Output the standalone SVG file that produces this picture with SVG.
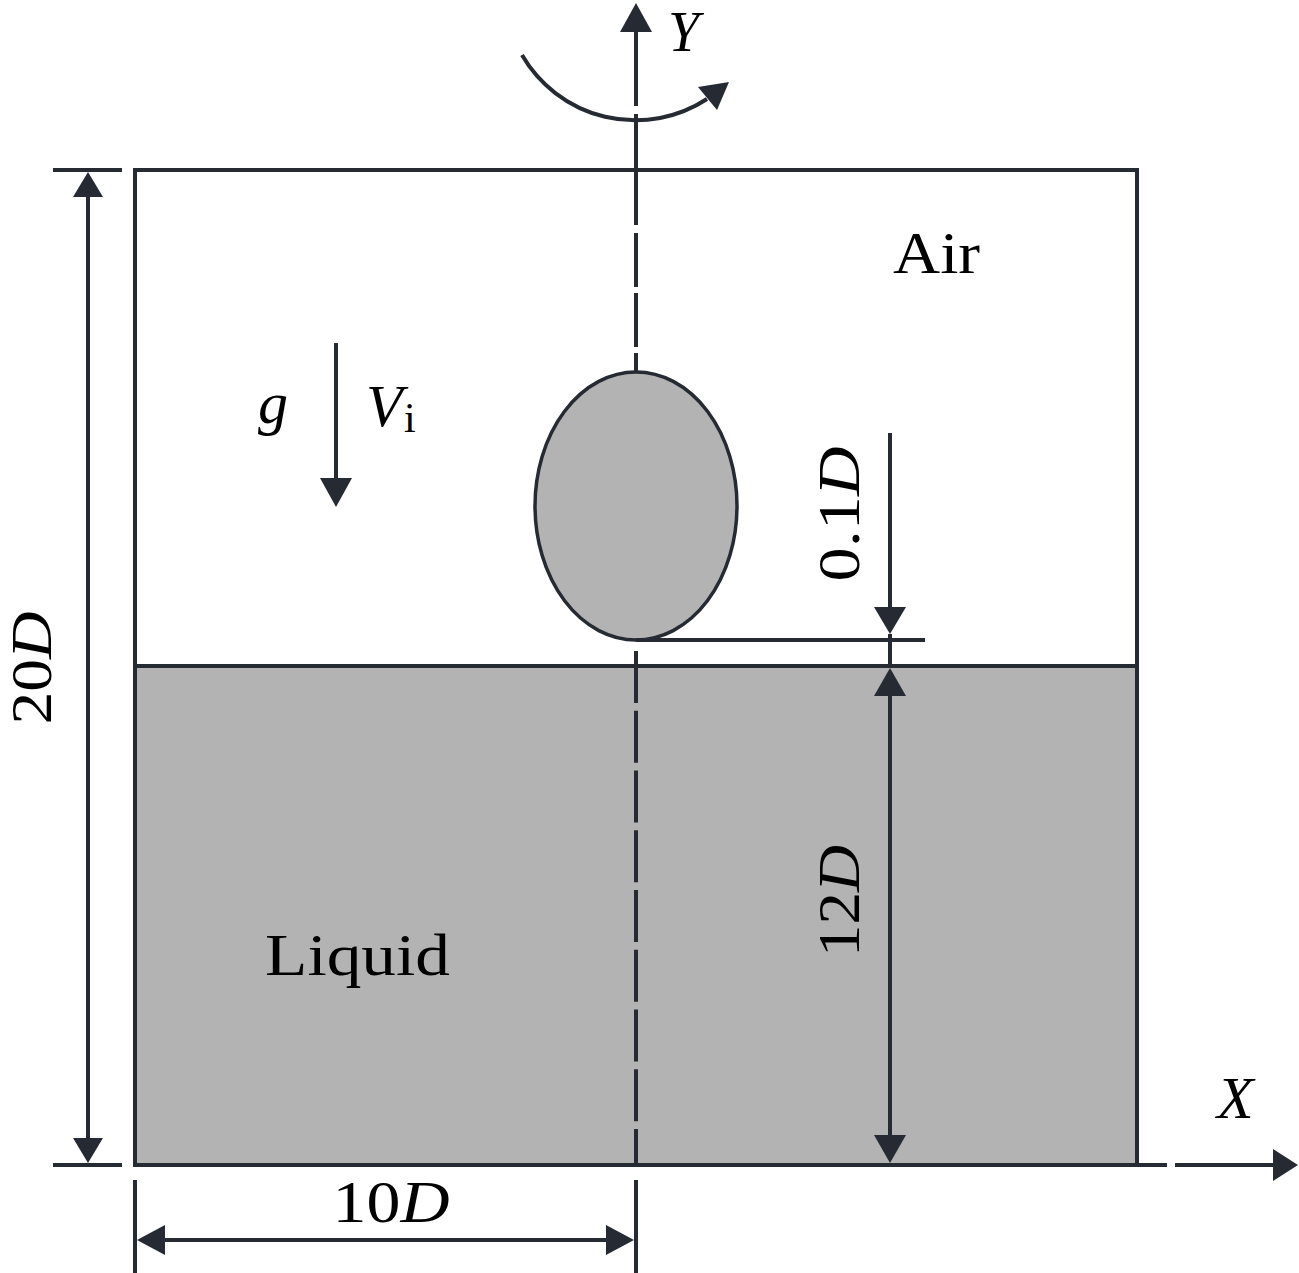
<svg xmlns="http://www.w3.org/2000/svg" width="1299" height="1273" viewBox="0 0 1299 1273">
<style>
.ln{stroke:#252a33;stroke-width:4;fill:none}
.hd{fill:#252a33;stroke:none}
.t{font-family:"Liberation Serif","Times New Roman",serif;font-size:60px;fill:#000}
.it{font-style:italic}
</style>
<rect width="1299" height="1273" fill="#fff"/>
<g id="liquid">
<rect x="135" y="666" width="1002" height="499" fill="#b3b3b3"/>
</g>
<g id="domain">
<rect x="135" y="170" width="1002" height="995" class="ln"/>
<line x1="135" y1="666" x2="1137" y2="666" class="ln"/>
</g>
<g id="droplet">
<ellipse cx="636" cy="506" rx="101" ry="134" fill="#b3b3b3" stroke="#252a33" stroke-width="3.5"/>
</g>
<g id="connectors">
<line x1="636" y1="28" x2="636" y2="106" class="ln"/>
<polygon points="636,3 620,32 652,32" class="hd"/>
<line x1="636" y1="114" x2="636" y2="225" class="ln"/>
<line x1="636" y1="233" x2="636" y2="287" class="ln"/>
<line x1="636" y1="293" x2="636" y2="347" class="ln"/>
<line x1="636" y1="353" x2="636" y2="372" class="ln"/>
<line x1="636" y1="651" x2="636" y2="1165" class="ln" stroke-dasharray="52 7.75"/>
<path d="M522,55 A131,131 0 0,0 707,99" class="ln"/>
<polygon points="729,82 698,87 717,110" class="hd"/>
<line x1="1137" y1="1165" x2="1167" y2="1165" class="ln"/>
<line x1="1175" y1="1165" x2="1275" y2="1165" class="ln"/>
<polygon points="1298,1165 1273,1149 1273,1181" class="hd"/>
<line x1="336" y1="343" x2="336" y2="482" class="ln"/>
<polygon points="336,507 320,478 352,478" class="hd"/>
<line x1="53" y1="170" x2="122" y2="170" class="ln"/>
<line x1="53" y1="1165" x2="122" y2="1165" class="ln"/>
<line x1="88" y1="190" x2="88" y2="1145" class="ln"/>
<polygon points="88,172 73,197 103,197" class="hd"/>
<polygon points="88,1163 73,1138 103,1138" class="hd"/>
<line x1="135" y1="1180" x2="135" y2="1273" class="ln"/>
<line x1="636" y1="1180" x2="636" y2="1273" class="ln"/>
<line x1="155" y1="1240" x2="615" y2="1240" class="ln"/>
<polygon points="137,1240 165,1225 165,1255" class="hd"/>
<polygon points="634,1240 606,1225 606,1255" class="hd"/>
<line x1="636" y1="640" x2="925" y2="640" class="ln"/>
<line x1="890" y1="433" x2="890" y2="612" class="ln"/>
<polygon points="890,634 874,607 906,607" class="hd"/>
<line x1="890" y1="634" x2="890" y2="666" class="ln"/>
<line x1="890" y1="690" x2="890" y2="1140" class="ln"/>
<polygon points="890,668 874,696 906,696" class="hd"/>
<polygon points="890,1163 874,1135 906,1135" class="hd"/>
</g>
<g id="labels">
<text x="668" y="51" class="t it" style="font-size:56px">Y</text>
<text x="1217" y="1118" class="t it">X</text>
<text x="893" y="273" class="t" textLength="87" lengthAdjust="spacingAndGlyphs">Air</text>
<text x="265" y="975" class="t" textLength="185" lengthAdjust="spacingAndGlyphs">Liquid</text>
<text x="258" y="423" class="t it">g</text>
<text x="366" y="426" class="t it">V</text>
<text x="404" y="432" class="t" style="font-size:42px">i</text>
<text x="391" y="1222" class="t" text-anchor="middle" textLength="117" lengthAdjust="spacingAndGlyphs">10<tspan class="it">D</tspan></text>
<text transform="translate(859,514) rotate(-90)" class="t" text-anchor="middle" textLength="135" lengthAdjust="spacingAndGlyphs">0.1<tspan class="it">D</tspan></text>
<text transform="translate(859,901) rotate(-90)" class="t" text-anchor="middle" textLength="112" lengthAdjust="spacingAndGlyphs">12<tspan class="it">D</tspan></text>
<text transform="translate(51,668) rotate(-90)" class="t" style="font-size:56px" text-anchor="middle" textLength="113" lengthAdjust="spacingAndGlyphs">20<tspan class="it">D</tspan></text>
</g>
</svg>
